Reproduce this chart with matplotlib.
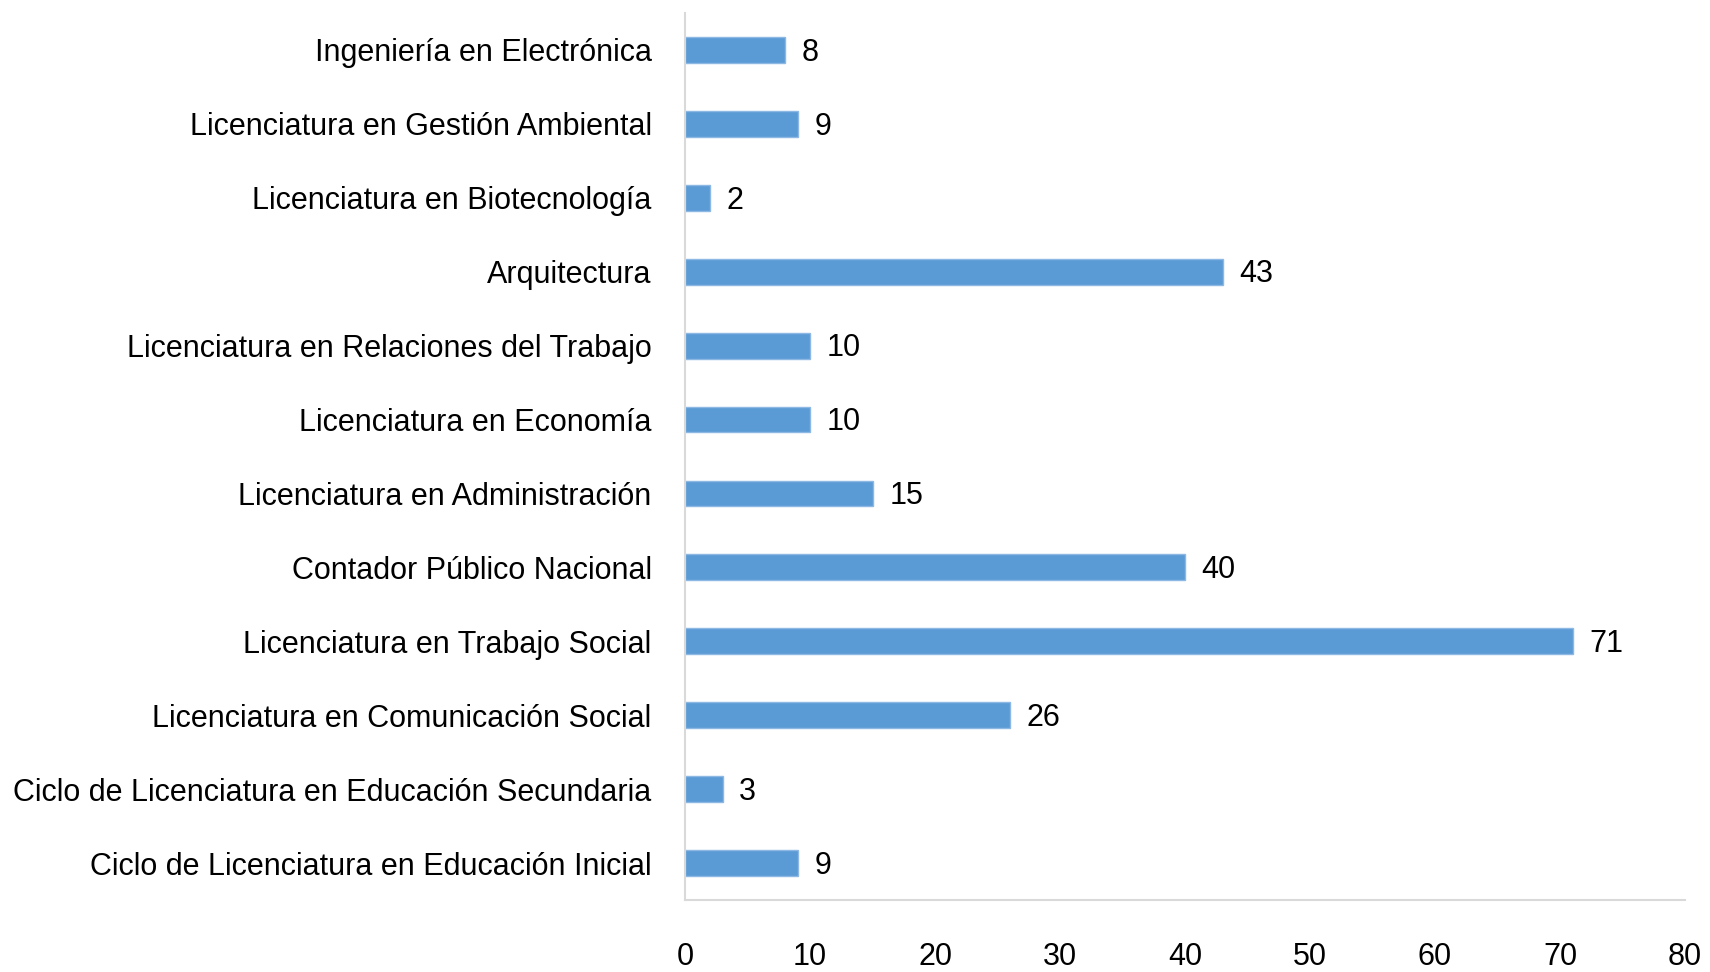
import matplotlib
matplotlib.use("Agg")
import matplotlib.pyplot as plt
from matplotlib import font_manager

carreras = [
    "Ingeniería en Electrónica",
    "Licenciatura en Gestión Ambiental",
    "Licenciatura en Biotecnología",
    "Arquitectura",
    "Licenciatura en Relaciones del Trabajo",
    "Licenciatura en Economía",
    "Licenciatura en Administración",
    "Contador Público Nacional",
    "Licenciatura en Trabajo Social",
    "Licenciatura en Comunicación Social",
    "Ciclo de Licenciatura en Educación Secundaria",
    "Ciclo de Licenciatura en Educación Inicial",
]
valores = [8, 9, 2, 43, 10, 10, 15, 40, 71, 26, 3, 9]
x_ticks = [0, 10, 20, 30, 40, 50, 60, 70, 80]

names = {f.name for f in font_manager.fontManager.ttflist}
fam = "Liberation Sans Narrow" if "Liberation Sans Narrow" in names else "Liberation Sans"
plt.rcParams["font.family"] = [fam, "DejaVu Sans"]

fig = plt.figure(figsize=(17.1, 9.72), dpi=100)
ax = fig.add_axes([685 / 1710, 1 - 900 / 972, 1000 / 1710, 887 / 972])

pos = list(range(len(carreras)))
ax.barh(pos, valores, height=0.35, color="#5B9BD5", edgecolor="#8DB8E3", linewidth=1)
ax.set_ylim(len(carreras) - 0.5, -0.5)
ax.set_xlim(0, 80)
ax.set_yticks(pos)
ax.set_yticklabels(carreras, fontsize=22)
ax.set_xticks(x_ticks)
ax.set_xticklabels([str(t) for t in x_ticks], fontsize=22)
ax.tick_params(axis="y", length=0, pad=24)
ax.tick_params(axis="x", length=0, pad=30)

for sp in ["top", "right"]:
    ax.spines[sp].set_visible(False)
for sp in ["left", "bottom"]:
    ax.spines[sp].set_color("#D9D9D9")
    ax.spines[sp].set_linewidth(1.5)

# etiquetas de valor al final de cada barra
for p, v in zip(pos, valores):
    ax.annotate(str(v), (v, p), xytext=(12, -2), textcoords="offset points",
                va="center", ha="left", fontsize=22)

fig.savefig("out.png", dpi=100)
